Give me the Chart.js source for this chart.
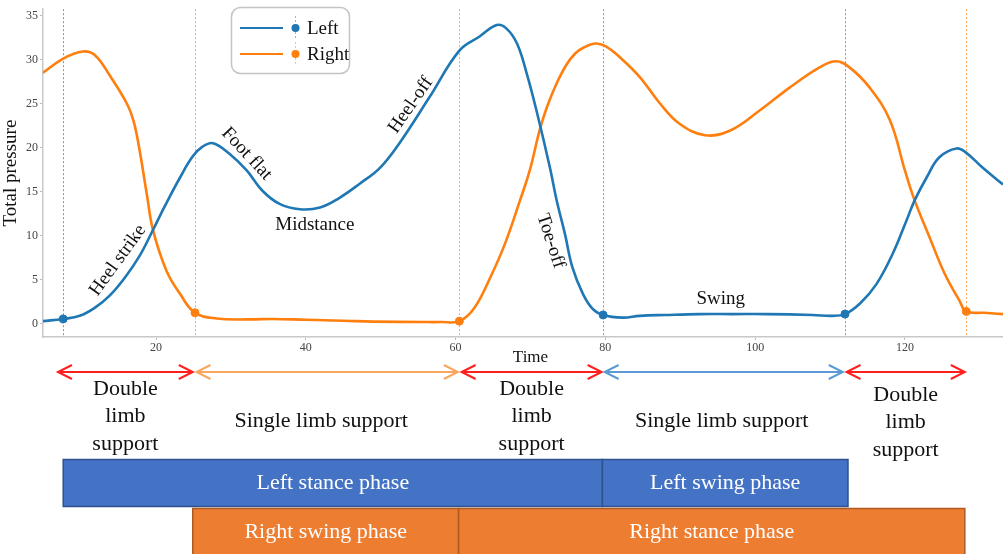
<!DOCTYPE html>
<html lang="en">
<head>
<meta charset="UTF-8">
<title>Gait cycle - total pressure</title>
<script src="https://cdn.jsdelivr.net/npm/chart.js"></script>
<style>
  body { margin: 0; background: #fff; overflow: hidden; }
  .wrap { position: relative; width: 1008px; height: 554px; }
</style>
</head>
<body>
<div class="wrap"><canvas id="gait"></canvas></div>
<script>
// Left foot total pressure over time
var leftTime = [4.9, 7.6, 9.8, 11.8, 13.8, 15.8, 17.8, 19.5, 21.2, 23.2, 24.9, 26.2, 27.6, 29.8, 32.1, 34.2, 36.5, 39.2, 41.9, 44.5, 47.2, 49.9,
  52.5, 56.5, 60.5, 63.2, 65.5, 66.8, 68.2, 69.5, 70.8, 72.6, 73.5, 74.6, 75.6, 77, 78.3, 79.7, 82.3, 84.6, 88, 92.6, 97, 101.5,
  107.7, 110.3, 112, 114, 116.2, 118.4, 120.2, 121.3, 122.9, 124.6, 126.9, 128.2, 130.4, 133.1];
var leftPressure = [0.3, 0.55, 0.9, 1.8, 3.2, 5.2, 7.7, 10.5, 13.4, 16.6, 19.0, 20.1, 20.5, 19.3, 17.4, 15.1, 13.6, 13.0, 13.2, 14.3, 15.9, 17.7,
  20.5, 25.7, 31.0, 32.6, 33.9, 33.5, 31.8, 28.4, 24.2, 17.7, 14.0, 10.2, 6.4, 3.4, 1.7, 1.0, 0.7, 0.9, 1.0, 1.1, 1.1, 1.1,
  1.0, 0.9, 1.1, 2.3, 4.5, 8.0, 11.7, 14.0, 16.6, 18.9, 19.9, 19.4, 17.7, 15.8];

// Right foot total pressure over time
var rightTime = [4.9, 7.6, 10.2, 11.8, 13.8, 16.1, 17.0, 17.8, 18.8, 19.6, 21.4, 23.2, 25.2, 28.1, 32.5, 35.6, 40, 45, 49, 55.6, 58,
  60.5, 62.5, 64.6, 66.6, 68.6, 69.9, 71.2, 72.2, 73.5, 74.8, 76, 77, 78.6, 80, 82, 84.6, 87.3, 89.9, 93.3, 96.6, 100.6, 104.6,
  108.6, 110.8, 112.6, 115.3, 118, 120, 121.3, 123.3, 125.3, 127.3, 128.2, 130.6, 133.1];
var rightPressure = [28.5, 30.1, 30.9, 30.5, 28.2, 25.0, 23.0, 19.7, 14.5, 10.6, 6.0, 3.4, 1.25, 0.6, 0.5, 0.55, 0.45, 0.35, 0.25, 0.2, 0.2,
  0.3, 1.8, 5.2, 9.1, 14.0, 17.4, 21.9, 24.6, 27.3, 29.4, 30.7, 31.3, 31.8, 31.5, 30.2, 28.0, 25.0, 22.7, 21.4, 21.9, 24.2, 26.8,
  29.1, 29.8, 29.1, 26.8, 23.1, 17.4, 14.0, 9.8, 5.7, 2.6, 1.4, 1.25, 1.1];

// gait events (marker + dashed line)
var leftEventTime = [7.6, 79.7, 112];
var leftEventPressure = [0.55, 1.0, 1.1];
var rightEventTime = [25.2, 60.5, 128.2];
var rightEventPressure = [1.25, 0.3, 1.4];

var xTicks = [20, 40, 60, 80, 100, 120];
var yTicks = [0, 5, 10, 15, 20, 25, 30, 35];

// curve annotations
var noteText = ['Heel strike', 'Foot flat', 'Midstance', 'Heel-off', 'Toe-off', 'Swing'];
var noteTime = [14.9, 32.1, 41.2, 54.0, 72.7, 95.4];
var notePressure = [7.2, 19.3, 11.25, 24.8, 9.4, 2.8];
var noteAngle = [-54, 47, 0, -55, 72, 0];

// support periods (arrows)
var supportText = ['Double\nlimb\nsupport', 'Single limb support', 'Double\nlimb\nsupport', 'Single limb support', 'Double\nlimb\nsupport'];
var supportStart = [6.9, 25.4, 60.8, 79.9, 112.2];
var supportEnd = [24.9, 60.3, 79.5, 111.7, 128.0];

// stance / swing phases
var phaseText = ['Left stance phase', 'Left swing phase', 'Right swing phase', 'Right stance phase'];
var phaseStart = [7.6, 79.6, 24.9, 60.4];
var phaseEnd = [79.6, 112.4, 60.4, 128.0];
var phaseSide = ['Left', 'Left', 'Right', 'Right'];

var BLUE = '#1f77b4', ORANGE = '#ff7f0e';
var SERIF = "'Liberation Serif', 'Times New Roman', serif";
var arrowColors = ['#ff1f1f', '#f8a65e', '#ff1f1f', '#5b9bd5', '#ff1f1f'];

function pts(xs, ys) {
  return xs.map(function (t, i) { return { x: t, y: ys[i] }; });
}

function arrowHead(ctx, x, y, dir) {
  ctx.beginPath();
  ctx.moveTo(x + dir * 14, y - 7);
  ctx.lineTo(x, y);
  ctx.lineTo(x + dir * 14, y + 7);
  ctx.stroke();
}

var gaitPlugin = {
  id: 'gait',
  beforeDatasetsDraw: function (chart) {
    var ctx = chart.ctx, x = chart.scales.x, area = chart.chartArea;
    ctx.save();
    ctx.lineWidth = 1;
    ctx.setLineDash([2, 2]);
    ctx.globalAlpha = 0.7;
    [[leftEventTime, BLUE], [rightEventTime, ORANGE]].forEach(function (e) {
      ctx.strokeStyle = e[1];
      e[0].forEach(function (t) {
        var px = Math.round(x.getPixelForValue(t)) + 0.5;
        ctx.beginPath();
        ctx.moveTo(px, area.top);
        ctx.lineTo(px, area.bottom);
        ctx.stroke();
      });
    });
    ctx.restore();
  },
  afterDatasetsDraw: function (chart) {
    var ctx = chart.ctx, x = chart.scales.x, y = chart.scales.y;
    ctx.save();
    ctx.fillStyle = '#111';
    ctx.font = '19px ' + SERIF;
    ctx.textAlign = 'center';
    ctx.textBaseline = 'middle';
    noteText.forEach(function (txt, i) {
      ctx.save();
      ctx.translate(x.getPixelForValue(noteTime[i]), y.getPixelForValue(notePressure[i]));
      ctx.rotate(noteAngle[i] * Math.PI / 180);
      ctx.fillText(txt, 0, 0);
      ctx.restore();
    });

    // legend
    ctx.beginPath();
    ctx.roundRect(231.5, 7.5, 118, 66, 9);
    ctx.fillStyle = 'rgba(255,255,255,0.85)';
    ctx.fill();
    ctx.strokeStyle = '#c4c4c4';
    ctx.lineWidth = 1.5;
    ctx.stroke();
    chart.data.datasets.slice(0, 2).forEach(function (ds, i) {
      var ly = 28 + i * 26;
      ctx.strokeStyle = ds.borderColor;
      ctx.lineWidth = 2;
      ctx.beginPath();
      ctx.moveTo(240, ly);
      ctx.lineTo(283, ly);
      ctx.stroke();
      ctx.save();
      ctx.globalAlpha = 0.5;
      ctx.lineWidth = 1;
      ctx.setLineDash([2, 2]);
      ctx.beginPath();
      ctx.moveTo(295.5, ly - 12);
      ctx.lineTo(295.5, ly + 12);
      ctx.stroke();
      ctx.restore();
      ctx.fillStyle = ds.borderColor;
      ctx.beginPath();
      ctx.arc(295.5, ly, 4, 0, Math.PI * 2);
      ctx.fill();
      ctx.fillStyle = '#111';
      ctx.textAlign = 'left';
      ctx.fillText(ds.label, 307, ly + 1);
    });
    ctx.restore();
  },
  afterDraw: function (chart) {
    var ctx = chart.ctx, x = chart.scales.x;
    ctx.save();
    ctx.fillStyle = '#111';
    ctx.textAlign = 'center';
    ctx.textBaseline = 'middle';
    ctx.font = '17px ' + SERIF;
    ctx.fillText('Time', x.getPixelForValue(70), 358);

    // support arrows and labels
    ctx.font = '22px ' + SERIF;
    supportText.forEach(function (txt, i) {
      var x0 = x.getPixelForValue(supportStart[i]);
      var x1 = x.getPixelForValue(supportEnd[i]);
      var ay = 372;
      ctx.strokeStyle = arrowColors[i];
      ctx.lineWidth = 2;
      ctx.beginPath();
      ctx.moveTo(x0, ay);
      ctx.lineTo(x1, ay);
      ctx.stroke();
      arrowHead(ctx, x0, ay, 1);
      arrowHead(ctx, x1, ay, -1);
      var lines = txt.split('\n');
      var cx = (x0 + x1) / 2;
      ctx.fillStyle = '#111';
      if (lines.length === 1) {
        ctx.fillText(lines[0], cx - (i === 1 ? 6 : 2), 421);
      } else {
        var top = i === 4 ? 395 : 389;
        lines.forEach(function (ln, k) { ctx.fillText(ln, cx, top + k * 27.5); });
      }
    });

    // stance / swing bars
    phaseText.forEach(function (txt, i) {
      var x0 = x.getPixelForValue(phaseStart[i]);
      var x1 = x.getPixelForValue(phaseEnd[i]);
      var top = phaseSide[i] === 'Left' ? 459.5 : 508.5;
      ctx.fillStyle = phaseSide[i] === 'Left' ? '#4472c4' : '#ed7d31';
      ctx.strokeStyle = phaseSide[i] === 'Left' ? '#2f528f' : '#ae5a21';
      ctx.lineWidth = 1.5;
      ctx.fillRect(x0, top, x1 - x0, 47);
      ctx.strokeRect(x0, top, x1 - x0, 47);
      ctx.fillStyle = '#fff';
      ctx.fillText(txt, (x0 + x1) / 2, top + 24);
    });
    ctx.restore();
  }
};

new Chart(document.getElementById('gait'), {
  type: 'scatter',
  data: {
    datasets: [
      { label: 'Left', data: pts(leftTime, leftPressure), showLine: true, borderColor: BLUE, borderWidth: 2.6,
        pointRadius: 0, tension: 0.4 },
      { label: 'Right', data: pts(rightTime, rightPressure), showLine: true, borderColor: ORANGE, borderWidth: 2.6,
        pointRadius: 0, tension: 0.4 },
      { label: 'Left events', data: pts(leftEventTime, leftEventPressure), showLine: false,
        pointRadius: 4, backgroundColor: BLUE, borderColor: BLUE },
      { label: 'Right events', data: pts(rightEventTime, rightEventPressure), showLine: false,
        pointRadius: 4, backgroundColor: ORANGE, borderColor: ORANGE }
    ]
  },
  options: {
    responsive: true,
    maintainAspectRatio: false,
    animation: false,
    layout: { padding: { top: 6, left: 0, right: 0, bottom: 0 } },
    plugins: { legend: { display: false }, tooltip: { enabled: false } },
    scales: {
      x: {
        type: 'linear', min: 4.9, max: 133.1,
        afterBuildTicks: function (s) { s.ticks = xTicks.map(function (v) { return { value: v }; }); },
        afterFit: function (s) { s.height = 217; },
        grid: { drawOnChartArea: false, tickLength: 3, tickColor: '#bbb' },
        border: { color: '#c8c8c8', width: 1.5 },
        ticks: { font: { family: SERIF, size: 12 }, color: '#444', padding: 1, maxRotation: 0 }
      },
      y: {
        min: -1.5, max: 35.7,
        afterBuildTicks: function (s) { s.ticks = yTicks.map(function (v) { return { value: v }; }); },
        afterFit: function (s) { s.width = 43; },
        grid: { drawOnChartArea: false, tickLength: 3, tickColor: '#bbb' },
        border: { color: '#c8c8c8', width: 1.5 },
        ticks: { font: { family: SERIF, size: 12 }, color: '#444', padding: 2 },
        title: { display: true, text: 'Total pressure', font: { family: SERIF, size: 19 }, color: '#111', padding: 0 }
      }
    }
  },
  plugins: [gaitPlugin]
});
</script>
</body>
</html>
